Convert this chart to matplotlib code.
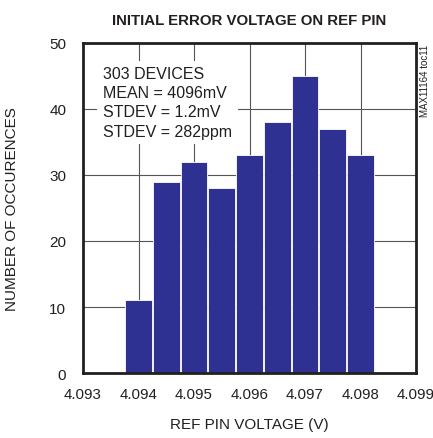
import matplotlib.pyplot as plt
import numpy as np

# ヒストグラムのデータ
bin_centers = [4.0940, 4.0945, 4.0950, 4.0955, 4.0960, 4.0965, 4.0970, 4.0975, 4.0980]
counts = [11, 29, 32, 28, 33, 38, 45, 37, 33]
x_ticks = [4.093, 4.094, 4.095, 4.096, 4.097, 4.098, 4.099]
y_ticks = [0, 10, 20, 30, 40, 50]

plt.rcParams['font.family'] = ['Liberation Sans', 'DejaVu Sans']

fig = plt.figure(figsize=(4.33, 4.39), dpi=100)
ax = fig.add_axes([83/433, 1 - 374/439, 333/433, 330/439])

ax.bar(bin_centers, counts, width=0.00048, color='#2E3192',
       edgecolor='white', linewidth=0.6, zorder=2)

ax.set(xlim=(4.093, 4.099), ylim=(0, 50))
ax.set_xticks(x_ticks)
ax.set_xticklabels([f'{t:.3f}' for t in x_ticks])
ax.set_yticks(y_ticks)
ax.grid(True, color='#555555', linewidth=0.8, zorder=0)
ax.set_axisbelow(True)
ax.tick_params(length=0, labelsize=11, colors='#231F20')
ax.tick_params(axis='x', pad=10, labelsize=10.8)
ax.tick_params(axis='y', pad=12)
for s in ax.spines.values():
    s.set_linewidth(2)
    s.set_color('#231F20')

ax.set_xlabel('REF PIN VOLTAGE (V)', fontsize=11, color='#231F20', va='center')
ax.xaxis.set_label_coords(0.5, (374 - 425) / 330)
ax.set_ylabel('NUMBER OF OCCURENCES', fontsize=11, color='#231F20', va='center')
ax.yaxis.set_label_coords((12 - 83) / 333, 0.5)
ax.set_title('INITIAL ERROR VOLTAGE ON REF PIN', fontsize=10.8,
             fontweight='bold', color='#231F20', pad=14)

ax.text(0.06, 0.93, '303 DEVICES\nMEAN = 4096mV\nSTDEV = 1.2mV\nSTDEV = 282ppm',
        transform=ax.transAxes, fontsize=11.5, va='top', ha='left',
        linespacing=1.35, color='#231F20', zorder=3,
        bbox=dict(facecolor='white', edgecolor='none', pad=4))

fig.text(425/433, 1 - 45/439, 'MAX11164 toc11', rotation=90, fontsize=7,
         ha='center', va='top', color='#231F20')

fig.savefig('out.png', dpi=100)
